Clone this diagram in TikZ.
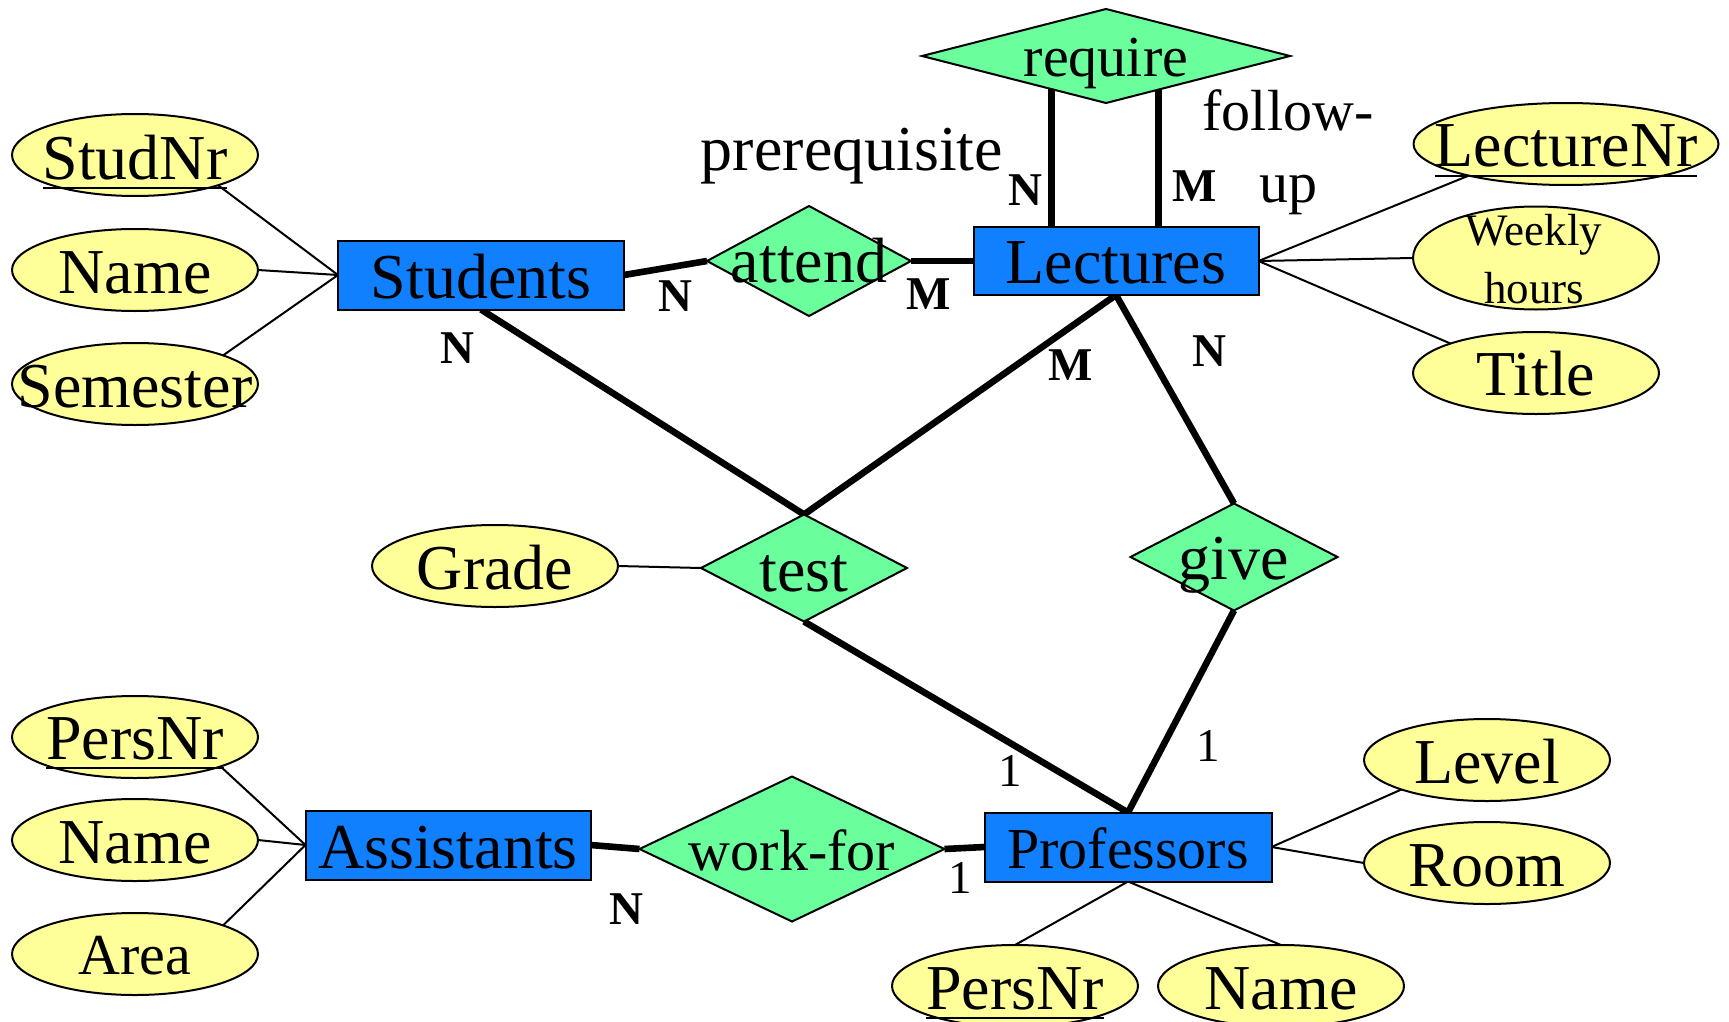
\documentclass[tikz,border=0pt]{standalone}
\usepackage{fontspec}
\setmainfont{Liberation Serif}
\usetikzlibrary{shapes.geometric,backgrounds,calc}
\definecolor{entblue}{HTML}{1080FF}
\definecolor{relgreen}{HTML}{6AFF9C}
\definecolor{attyellow}{HTML}{FFFF99}
\begin{document}
\begin{tikzpicture}[x=0.5pt,y=-0.5pt,
  entity/.style={draw=black, line width=1pt, fill=entblue, rectangle, inner sep=0pt, outer sep=0pt},
  rel/.style={draw=black, line width=1pt, fill=relgreen, diamond, inner sep=0pt, outer sep=0pt},
  attr/.style={draw=black, line width=1pt, fill=attyellow, ellipse, inner sep=0pt, outer sep=0pt, minimum width=123pt, minimum height=41pt},
  big/.style={font=\fontsize{32}{38}\selectfont, inner sep=0pt, outer sep=0pt, anchor=base},
  mid/.style={font=\fontsize{29}{35}\selectfont, inner sep=0pt, outer sep=0pt, anchor=base},
  card/.style={font=\fontsize{23.5}{28}\selectfont\bfseries, inner sep=0pt},
  one/.style={font=\fontsize{23.5}{28}\selectfont, inner sep=0pt},
  thinline/.style={line width=1pt},
  heavy/.style={line width=3.3pt},
  ulin/.style={line width=1pt}
]
\useasboundingbox (0,0) rectangle (1729,1022);

% entities
\node[entity, minimum width=143pt, minimum height=34.5pt] (students) at (481,275) {};
\node[entity, minimum width=142.5pt, minimum height=34pt] (lectures) at (1116,261) {};
\node[entity, minimum width=142.5pt, minimum height=34.5pt] (assistants) at (448,845) {};
\node[entity, minimum width=143.5pt, minimum height=34.5pt] (professors) at (1128,847) {};

% relationships
\node[rel, minimum width=102pt, minimum height=55pt] (attend) at (809,261) {};
\node[rel, minimum width=184pt, minimum height=47pt] (require) at (1106,56) {};
\node[rel, minimum width=103pt, minimum height=53.5pt] (test) at (804,568) {};
\node[rel, minimum width=103.5pt, minimum height=53.5pt] (give) at (1234,557) {};
\node[rel, minimum width=152.5pt, minimum height=72.5pt] (workfor) at (792,849) {};

% attributes
\node[attr] (studnr) at (135,155) {};
\node[attr] (sname) at (135,270) {};
\node[attr] (semester) at (135,384) {};
\node[attr, minimum width=152.5pt] (lecturenr) at (1566,144) {};
\node[attr, minimum height=51.5pt] (weekly) at (1536,258) {};
\node[attr] (title) at (1536,373) {};
\node[attr] (grade) at (495,566) {};
\node[attr] (apersnr) at (135,737) {};
\node[attr] (aname) at (135,840) {};
\node[attr] (area) at (135,954) {};
\node[attr] (level) at (1487,760) {};
\node[attr] (room) at (1487,863) {};
\node[attr] (ppersnr) at (1015,986) {};
\node[attr] (pname) at (1281,986) {};

% texts
\node[big] (students-t) at ($(students.center)+(0,23)$) {Students};
\node[big] (lectures-t) at ($(lectures.center)+(0,22)$) {Lectures};
\node[big] (assistants-t) at ($(assistants.center)+(0,23)$) {Assistants};
\node[mid] (professors-t) at ($(professors.center)+(0,21)$) {Professors};
\node[big] (attend-t) at ($(attend.center)+(0,21)$) {attend};
\node[mid] (require-t) at ($(require.center)+(0,21)$) {require};
\node[big] (test-t) at ($(test.center)+(0,23)$) {test};
\node[big] (give-t) at ($(give.center)+(0,22)$) {give};
\node[mid] (workfor-t) at ($(workfor.center)+(0,21)$) {work-for};
\node[big] (studnr-t) at ($(studnr.center)+(0,24)$) {StudNr};
\node[big] (sname-t) at ($(sname.center)+(0,23)$) {Name};
\node[big] (semester-t) at ($(semester.center)+(0,23)$) {Semester};
\node[big] (lecturenr-t) at ($(lecturenr.center)+(0,23)$) {LectureNr};
\node[font=\fontsize{22.5}{29}\selectfont, inner sep=0pt, align=center] (weekly-t) at (1534,259) {Weekly\\hours};
\node[big] (title-t) at ($(title.center)+(0,22)$) {Title};
\node[big] (grade-t) at ($(grade.center)+(0,23)$) {Grade};
\node[big] (apersnr-t) at ($(apersnr.center)+(0,22)$) {PersNr};
\node[big] (aname-t) at ($(aname.center)+(0,23)$) {Name};
\node[mid] (area-t) at ($(area.center)+(0,20)$) {Area};
\node[big] (level-t) at ($(level.center)+(0,23)$) {Level};
\node[big] (room-t) at ($(room.center)+(0,23)$) {Room};
\node[big] (ppersnr-t) at ($(ppersnr.center)+(0,23)$) {PersNr};
\node[big] (pname-t) at ($(pname.center)+(0,23)$) {Name};
\node[big] (prereq) at (852,170) {prerequisite};
\node[font=\fontsize{29}{36}\selectfont, inner sep=0pt, align=center] (followup) at (1288,152) {follow-\\up};

% underlines of keys
\draw[ulin] ([yshift=-4.5pt]studnr-t.base west) -- ([yshift=-4.5pt]studnr-t.base east);
\draw[ulin] ([yshift=-4.5pt]lecturenr-t.base west) -- ([yshift=-4.5pt]lecturenr-t.base east);
\draw[ulin] ([yshift=-4.5pt]apersnr-t.base west) -- ([yshift=-4.5pt]apersnr-t.base east);
\draw[ulin] ([yshift=-4.5pt]ppersnr-t.base west) -- ([yshift=-4.5pt]ppersnr-t.base east);

% cardinalities
\node[card] (c1) at (675,296) {N};
\node[card] (c2) at (929,294) {M};
\node[card] (c3) at (457,348) {N};
\node[card] (c4) at (1025,190) {N};
\node[card] (c5) at (1195,186) {M};
\node[card] (c6) at (1071,365) {M};
\node[card] (c7) at (1209,351) {N};
\node[card] (c8) at (626,909) {N};
\node[one] (c9) at (1010,771) {1};
\node[one] (c10) at (1208,746) {1};
\node[one] (c11) at (960,878) {1};

\begin{scope}[on background layer]
  \path[fill=white] (0,0) rectangle (1729,1022);
  % attribute links
  \draw[thinline] (studnr.-20) -- (students.west);
  \draw[thinline] (sname.east) -- (students.west);
  \draw[thinline] (semester.18) -- (students.west);
  \draw[thinline] (lecturenr.-162) -- (lectures.east);
  \draw[thinline] (weekly.west) -- (lectures.east);
  \draw[thinline] (title.161) -- (lectures.east);
  \draw[thinline] (grade.east) -- (test.west);
  \draw[thinline] (apersnr.-19) -- (assistants.west);
  \draw[thinline] (aname.east) -- (assistants.west);
  \draw[thinline] (area.18) -- (assistants.west);
  \draw[thinline] (level.-161) -- (professors.east);
  \draw[thinline] (room.west) -- (professors.east);
  \draw[thinline] (ppersnr.north) -- (professors.south);
  \draw[thinline] (pname.north) -- (professors.south);
  % relationship links
  \draw[heavy] (students.east) -- (attend.west);
  \draw[heavy] (attend.east) -- (lectures.west);
  \draw[heavy] (students.south) -- (test.north);
  \draw[heavy] (lectures.south) -- (test.north);
  \draw[heavy] (lectures.south) -- (give.north);
  \draw[heavy] (test.south) -- (professors.north);
  \draw[heavy] (give.south) -- (professors.north);
  \draw[heavy] (assistants.east) -- (workfor.west);
  \draw[heavy] (workfor.east) -- (professors.west);
  \draw[heavy] ([xshift=-32.25pt]lectures.north) -- ([xshift=-32.25pt]lectures.north |- require.center);
  \draw[heavy] ([xshift=21.25pt]lectures.north) -- ([xshift=21.25pt]lectures.north |- require.center);
\end{scope}
\end{tikzpicture}
\end{document}
